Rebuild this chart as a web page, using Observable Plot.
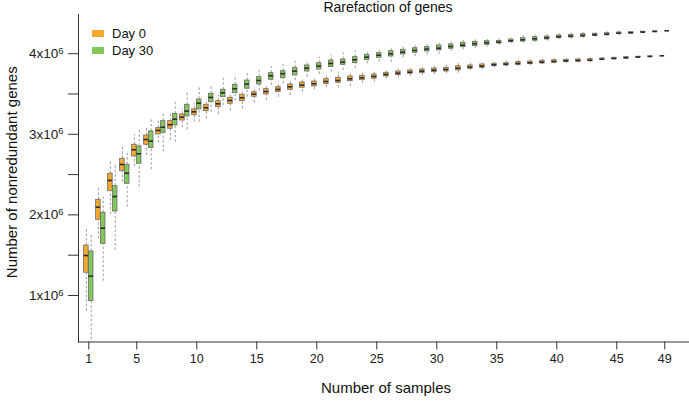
<!DOCTYPE html>
<html>
<head>
<meta charset="utf-8">
<script src="https://cdn.jsdelivr.net/npm/d3@7"></script>
<script src="https://cdn.jsdelivr.net/npm/@observablehq/plot@0.6"></script>
<style>
  body { margin: 0; background: #fff; }
  #wrap { position: relative; width: 689px; height: 402px; font-family: "Liberation Sans", Arial, sans-serif; }
  #legend { position: absolute; left: 92px; top: 25px; font-size: 13px; color: #111; }
  .row { display: flex; align-items: center; height: 16.7px; }
  .sw { width: 12px; height: 7px; margin-right: 8px; }
</style>
</head>
<body>
<div id="wrap"><div id="legend"></div></div>
<script>
// ---- data (values in millions of genes) ----
const samples = [1,2,3,4,5,6,7,8,9,10,11,12,13,14,15,16,17,18,19,20,21,22,23,24,25,26,27,28,29,30,31,32,33,34,35,36,37,38,39,40,41,42,43,44,45,46,47,48,49];
const xTicks = [1,5,10,15,20,25,30,35,40,45,49];
const yTicks = [1e6, 2e6, 3e6, 4e6];
const yMinorTicks = [1.5e6, 2.5e6, 3.5e6];
const groups = ["Day 0", "Day 30"];
const groupColors = ["#f4a92e", "#83c65a"];

const day0Hi  = [1.847,2.344,2.654,2.861,2.998,3.088,3.171,3.262,3.316,3.378,3.428,3.481,3.522,3.552,3.584,3.605,3.646,3.655,3.701,3.708,3.730,3.770,3.751,3.758,3.770,3.783,3.800,3.813,3.825,3.841,3.854,3.875,3.882,3.887,3.895,3.907,3.916,3.924,3.928,3.937,3.940,3.944,3.949,3.953,3.957,3.965,3.968,3.969,3.974];
const day0Q3  = [1.620,2.187,2.510,2.696,2.870,2.985,3.076,3.163,3.246,3.308,3.366,3.411,3.453,3.490,3.522,3.560,3.584,3.618,3.643,3.655,3.684,3.701,3.717,3.726,3.742,3.763,3.779,3.792,3.804,3.816,3.825,3.845,3.854,3.866,3.875,3.882,3.895,3.903,3.912,3.919,3.924,3.928,3.932,3.940,3.949,3.957,3.962,3.967,3.974];
const day0Med = [1.496,2.096,2.427,2.625,2.808,2.935,3.047,3.118,3.212,3.279,3.329,3.378,3.419,3.453,3.498,3.531,3.556,3.589,3.609,3.627,3.655,3.667,3.689,3.701,3.717,3.742,3.758,3.770,3.783,3.795,3.804,3.820,3.833,3.845,3.862,3.870,3.878,3.887,3.895,3.903,3.912,3.916,3.919,3.932,3.940,3.949,3.957,3.965,3.974];
const day0Q1  = [1.282,1.939,2.294,2.542,2.725,2.870,2.998,3.068,3.171,3.237,3.287,3.336,3.378,3.411,3.465,3.494,3.522,3.552,3.577,3.593,3.622,3.639,3.659,3.671,3.689,3.717,3.733,3.751,3.758,3.770,3.779,3.792,3.813,3.825,3.845,3.854,3.862,3.870,3.878,3.887,3.895,3.900,3.907,3.924,3.932,3.940,3.952,3.963,3.974];
const day0Lo  = [0.805,1.703,2.005,2.406,2.601,2.737,2.890,2.923,3.081,3.150,3.192,3.246,3.287,3.316,3.386,3.419,3.460,3.481,3.522,3.552,3.584,3.572,3.593,3.630,3.646,3.689,3.701,3.717,3.730,3.742,3.751,3.758,3.792,3.800,3.825,3.833,3.841,3.850,3.862,3.875,3.882,3.882,3.887,3.912,3.924,3.932,3.946,3.961,3.974];

const day30Hi  = [1.744,2.253,2.634,2.778,3.068,3.180,3.262,3.411,3.510,3.584,3.605,3.701,3.708,3.763,3.800,3.841,3.866,3.907,3.916,3.957,3.986,4.011,4.031,4.019,4.061,4.089,4.081,4.102,4.114,4.130,4.143,4.164,4.172,4.176,4.185,4.192,4.222,4.230,4.234,4.247,4.254,4.263,4.263,4.272,4.279,4.276,4.278,4.278,4.284];
const day30Q3  = [1.546,2.026,2.356,2.622,2.849,3.035,3.163,3.254,3.366,3.432,3.502,3.552,3.614,3.667,3.708,3.758,3.783,3.825,3.854,3.882,3.916,3.928,3.957,3.986,4.006,4.031,4.048,4.068,4.081,4.102,4.114,4.135,4.147,4.155,4.158,4.176,4.192,4.205,4.213,4.226,4.234,4.242,4.247,4.254,4.263,4.267,4.272,4.277,4.284];
const day30Med = [1.239,1.835,2.228,2.517,2.758,2.914,3.088,3.187,3.287,3.386,3.457,3.515,3.565,3.622,3.667,3.726,3.751,3.783,3.820,3.845,3.878,3.895,3.924,3.957,3.981,3.999,4.019,4.040,4.056,4.068,4.089,4.105,4.123,4.135,4.143,4.160,4.172,4.185,4.197,4.210,4.217,4.226,4.234,4.242,4.254,4.259,4.267,4.275,4.284];
const day30Q1  = [0.929,1.641,2.042,2.386,2.634,2.828,3.019,3.109,3.221,3.308,3.398,3.460,3.510,3.565,3.618,3.676,3.696,3.730,3.779,3.804,3.833,3.862,3.882,3.919,3.949,3.965,3.990,4.011,4.027,4.040,4.061,4.081,4.093,4.110,4.127,4.143,4.151,4.160,4.176,4.192,4.201,4.210,4.222,4.229,4.247,4.251,4.262,4.273,4.284];
const day30Lo  = [0.450,1.177,1.558,2.096,2.344,2.560,2.778,2.902,3.056,3.150,3.274,3.354,3.411,3.460,3.535,3.605,3.627,3.667,3.708,3.742,3.770,3.792,3.813,3.875,3.895,3.891,3.949,3.965,3.986,3.990,4.031,4.048,4.068,4.081,4.102,4.123,4.130,4.139,4.155,4.172,4.180,4.189,4.205,4.213,4.222,4.242,4.256,4.272,4.284];

// ---- build table ----
const series = [
  {hi: day0Hi, q3: day0Q3, med: day0Med, q1: day0Q1, lo: day0Lo},
  {hi: day30Hi, q3: day30Q3, med: day30Med, q1: day30Q1, lo: day30Lo}
];
const offset = [-0.2, 0.2];   // side-by-side placement within each sample count
const hw = 0.19;              // half box width in x units
const M = 1e6;
const rows = [];
groups.forEach((g, gi) => {
  const s = series[gi];
  samples.forEach((n, i) => {
    rows.push({group: g, n, pos: n + offset[gi],
      hi: s.hi[i] * M, q3: s.q3[i] * M, med: s.med[i] * M, q1: s.q1[i] * M, lo: s.lo[i] * M});
  });
});

const sup = "\u2076";
const fmt = d => `${d / M}x10${sup}`;

const chart = Plot.plot({
  width: 689,
  height: 402,
  marginLeft: 78,
  marginRight: 0,
  marginTop: 14,
  marginBottom: 60.5,
  style: {fontFamily: "'Liberation Sans', Arial, sans-serif", fontSize: "12px", color: "#222", background: "white"},
  x: {type: "linear", domain: [0.142, 51.06]},
  y: {type: "linear", domain: [0.423e6, 4.486e6]},
  color: {domain: groups, range: groupColors},
  marks: [
    Plot.frame({anchor: "left", stroke: "#333"}),
    Plot.frame({anchor: "bottom", stroke: "#333"}),
    Plot.axisX(xTicks, {tickSize: 8, tickPadding: 4, label: null, fontSize: 12.5, stroke: "#333"}),
    Plot.axisY(yTicks, {tickSize: 10, tickPadding: 5, label: null, tickFormat: fmt, fontSize: 13.5, stroke: "#333"}),
    Plot.axisY(yMinorTicks, {tickSize: 10, label: null, tickFormat: () => "", stroke: "#333"}),
    Plot.ruleX(rows, {x: "pos", y1: "lo", y2: "q1", stroke: "#9a9a9a", strokeWidth: 1, strokeDasharray: "2.5,2"}),
    Plot.ruleX(rows, {x: "pos", y1: "q3", y2: "hi", stroke: "#9a9a9a", strokeWidth: 1, strokeDasharray: "2.5,2"}),
    Plot.rect(rows, {x1: d => d.pos - hw, x2: d => d.pos + hw, y1: "q1", y2: "q3", fill: "group", stroke: "#6a6a6a", strokeWidth: 0.8}),
    Plot.ruleY(rows, {x1: d => d.pos - hw, x2: d => d.pos + hw, y: "med", stroke: "#2a2a2a", strokeWidth: 1.6}),
    Plot.text(["Rarefaction of genes"], {frameAnchor: "top", lineAnchor: "middle", dy: -7, dx: 4, fontSize: 14, fill: "#111"}),
    Plot.text(["Number of samples"], {frameAnchor: "bottom", lineAnchor: "middle", dy: 46.5, dx: 2, fontSize: 15, fill: "#111"}),
    Plot.text(["Number of nonredundant genes"], {frameAnchor: "left", textAnchor: "middle", lineAnchor: "middle", rotate: -90, dx: -66, dy: -6, fontSize: 15, fill: "#111"})
  ]
});

// render superscript exponent as a raised tspan
d3.select(chart).selectAll("text").each(function() {
  const t = this.textContent;
  const m = t.match(/^(.*x10)\u2076$/);
  if (m && this.children.length === 0) {
    const sel = d3.select(this);
    sel.text(null);
    sel.append("tspan").text(m[1]);
    sel.append("tspan").attr("dy", "-0.45em").attr("font-size", "0.7em").text("6");
  }
});

const wrap = document.getElementById("wrap");
wrap.insertBefore(chart, wrap.firstChild);

// legend
const legend = d3.select("#legend");
groups.forEach((g, i) => {
  const r = legend.append("div").attr("class", "row");
  r.append("div").attr("class", "sw").style("background", groupColors[i]);
  r.append("span").text(g);
});
</script>
</body>
</html>
